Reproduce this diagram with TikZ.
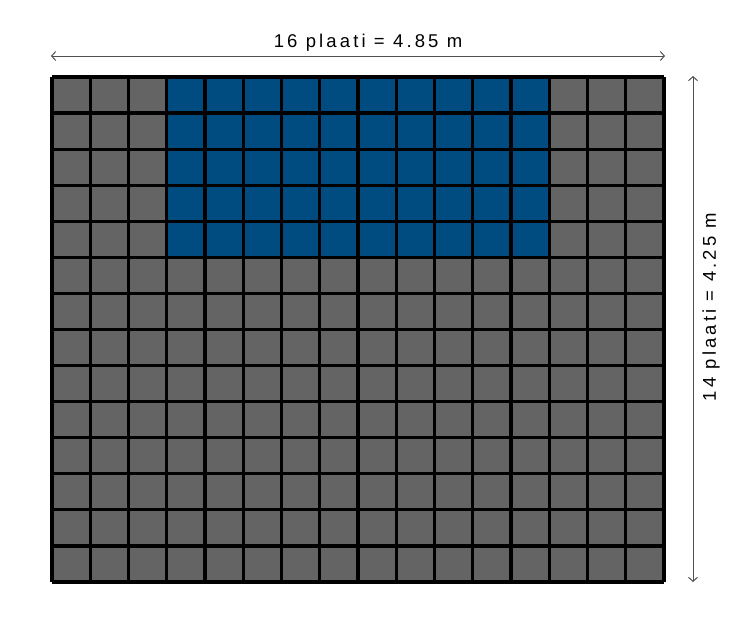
\documentclass[tikz,border=0pt]{standalone}
\usepackage{fontspec}
\newfontfamily\dimfont{Liberation Sans}[LetterSpace=17]
\usetikzlibrary{arrows.meta}
\definecolor{cellgray}{HTML}{646464}
\definecolor{cellblue}{HTML}{004C80}
\definecolor{dimgray}{HTML}{505050}
\begin{document}
\begin{tikzpicture}[x=1pt,y=-1pt,
  gridline/.style={black,line width=3.2pt,line cap=square},
  dimarrow/.style={dimgray,line width=1pt,{Straight Barb[length=4pt,width=9pt]}-{Straight Barb[length=4pt,width=9pt]}},
  dimlabel/.style={font=\dimfont\fontsize{18.5}{22}\selectfont,inner sep=0pt}]
\useasboundingbox (0,0) rectangle (750,625);
\def\cw{38.25}
\def\ch{36.07}
\coordinate (tl) at (52,77);
\coordinate (br) at (664,582);
\fill[cellgray] (tl) rectangle (br);
\fill[cellblue] ({52+3*\cw},77) rectangle ({52+13*\cw},{77+5*\ch});
\foreach \i in {0,...,16} \draw[gridline] ({52+\i*\cw},77) -- ({52+\i*\cw},582);
\foreach \j in {0,...,14} \draw[gridline] (52,{77+\j*\ch}) -- (664,{77+\j*\ch});
\coordinate (hl) at (51,56);
\coordinate (hr) at (665,56);
\coordinate (vt) at (693,76);
\coordinate (vb) at (693,582);
\draw[dimarrow] (hl) -- (hr);
\draw[dimarrow] (vt) -- (vb);
\node[dimlabel,anchor=base] (htext) at (368,47.5) {16 plaati = 4.85 m};
\node[dimlabel,rotate=90] (vtext) at (711,307) {14 plaati = 4.25 m};
\end{tikzpicture}
\end{document}
